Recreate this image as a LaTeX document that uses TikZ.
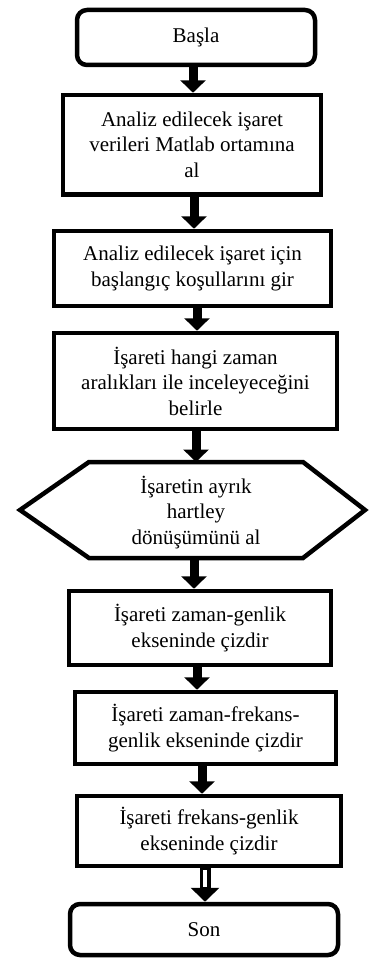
\documentclass[tikz,border=0pt]{standalone}
\usepackage{fontspec}
\setmainfont{Liberation Serif}
\usetikzlibrary{arrows.meta}
\begin{document}
\begin{tikzpicture}[x=1pt,y=-1pt,
  every node/.style={font=\fontsize{21}{25.5}\selectfont, align=center, inner sep=0pt},
  box/.style={draw, line width=4.5pt, rectangle},
  term/.style={box, rounded corners=10pt},
  flow/.style={line width=9pt, -{Triangle[width=25pt,length=12.5pt]}},
  hollowflow/.style={line width=11pt, -{Triangle[width=28pt,length=14pt]}},
  hollowcore/.style={white, line width=3.5pt, shorten <=2pt, shorten >=15pt}]
\useasboundingbox (0,0) rectangle (369,958);
\node[term, minimum width=238pt, minimum height=55pt] (n1) at (196,37.5) {Başla};
\node[box, minimum width=258pt, minimum height=99.5pt] (n2) at (192,144.75) {Analiz edilecek işaret\\verileri Matlab ortamına\\al};
\node[box, minimum width=277pt, minimum height=75pt] (n3) at (192.5,268.5) {Analiz edilecek işaret için\\başlangıç koşullarını gir};
\node[box, minimum width=283pt, minimum height=96pt] (n4) at (195.5,381) {İşareti hangi zaman\\aralıkları ile inceleyeceğini\\belirle};
\node[minimum width=214pt, minimum height=96pt, outer sep=0pt] (n5) at (196,510) {};
\node at (196,512.5) {İşaretin ayrık\\hartley\\dönüşümünü al};
\draw[line width=4.5pt, line join=miter] ([xshift=-69pt]n5.west) -- (n5.north west) -- (n5.north east) -- ([xshift=62pt]n5.east) -- (n5.south east) -- (n5.south west) -- cycle;
\node[box, minimum width=262pt, minimum height=74pt] (n6) at (200,628) {İşareti zaman-genlik\\ekseninde çizdir};
\node[box, minimum width=261pt, minimum height=72pt] (n7) at (205.5,728) {İşareti zaman-frekans-\\genlik ekseninde çizdir};
\node[box, minimum width=264pt, minimum height=70pt] (n8) at (209,831) {İşareti frekans-genlik\\ekseninde çizdir};
\node[term, minimum width=268pt, minimum height=51pt] (n9) at (204,929.5) {Son};
\draw[flow] ([xshift=-3pt]n1.south) -- ([xshift=1pt]n2.north);
\draw[flow] ([xshift=2pt]n2.south) -- ([xshift=1.5pt]n3.north);
\draw[flow] ([xshift=4.5pt]n3.south) -- ([xshift=1.5pt]n4.north);
\draw[flow] ([xshift=0.5pt]n4.south) -- (n5.north);
\draw[flow] ([xshift=-2pt]n5.south) -- ([xshift=-6pt]n6.north);
\draw[flow] ([xshift=-3pt]n6.south) -- ([xshift=-8.5pt]n7.north);
\draw[flow] ([xshift=-3.5pt]n7.south) -- ([xshift=-7pt]n8.north);
\draw[hollowflow] ([xshift=-4pt]n8.south) -- ([xshift=1pt]n9.north);
\draw[hollowcore] ([xshift=-4pt]n8.south) -- ([xshift=1pt]n9.north);
\end{tikzpicture}
\end{document}
